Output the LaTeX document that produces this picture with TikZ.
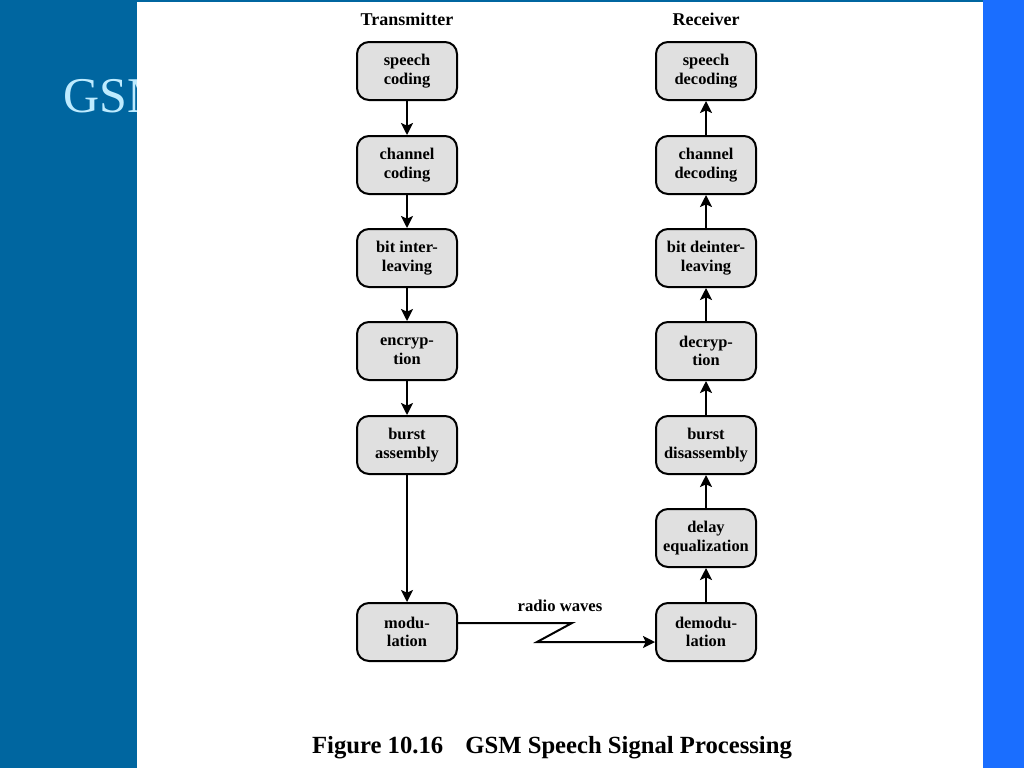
\documentclass[tikz,border=0pt]{standalone}
\usepackage{fontspec}
\setmainfont{Liberation Serif}
\usetikzlibrary{arrows.meta}
\definecolor{leftblue}{RGB}{0,102,160}
\definecolor{rightblue}{RGB}{26,110,255}
\definecolor{gsmtxt}{RGB}{190,235,255}
\definecolor{boxgray}{RGB}{224,224,224}
\begin{document}
\begin{tikzpicture}[x=0.75pt,y=-0.75pt,
  blk/.style={draw=black, line width=1.5pt, fill=boxgray, rounded corners=9pt,
    minimum width=75pt, minimum height=43.5pt, align=center, inner sep=0pt,
    font=\fontsize{12.3}{14}\selectfont\bfseries},
  lbl/.style={font=\fontsize{13.5}{15}\selectfont\bfseries},
  arr/.style={-{Stealth[length=9pt,width=9pt,inset=2pt]}, line width=1.5pt}]
\useasboundingbox (0,0) rectangle (1024,768);
% backgrounds
\fill[leftblue] (0,0) rectangle (1024,768);
\fill[rightblue] (983,0) rectangle (1024,768);
\node[anchor=base west, text=gsmtxt, inner sep=0pt, font=\fontsize{37.5}{40}\selectfont] (gsm) at (63,112) {GSM};
\fill[white] (137,1.5) rectangle (983,768);
% titles
\node[lbl] (tx) at (407,19) {Transmitter};
\node[lbl] (rx) at (706,19) {Receiver};
% transmitter column
\node[blk] (sc) at (407,71) {speech\\coding};
\node[blk] (cc) at (407,165) {channel\\coding};
\node[blk] (bi) at (407,258) {bit inter-\\leaving};
\node[blk] (en) at (407,351) {encryp-\\tion};
\node[blk] (ba) at (407,445) {burst\\assembly};
\node[blk] (mo) at (407,632) {modu-\\lation};
% receiver column
\node[blk] (sd) at (706,71) {speech\\decoding};
\node[blk] (cd) at (706,165) {channel\\decoding};
\node[blk] (bd) at (706,258) {bit deinter-\\leaving};
\node[blk] (de) at (706,351) {decryp-\\tion};
\node[blk] (bs) at (706,445) {burst\\disassembly};
\node[blk] (dq) at (706,538) {delay\\equalization};
\node[blk] (dm) at (706,632) {demodu-\\lation};
% arrows
\draw[arr] (sc) -- (cc);
\draw[arr] (cc) -- (bi);
\draw[arr] (bi) -- (en);
\draw[arr] (en) -- (ba);
\draw[arr] (ba) -- (mo);
\draw[arr] (dm) -- (dq);
\draw[arr] (dq) -- (bs);
\draw[arr] (bs) -- (de);
\draw[arr] (de) -- (bd);
\draw[arr] (bd) -- (cd);
\draw[arr] (cd) -- (sd);
% radio link
\coordinate (z1) at (572,623);
\coordinate (z2) at (537,642);
\draw[arr, line join=miter] ([yshift=6.75pt]mo.east) -- (z1) -- (z2) -- ([yshift=-7.5pt]dm.west);
\node[font=\fontsize{12.5}{14}\selectfont\bfseries] (rw) at (560,606) {radio waves};
% caption
\node[font=\fontsize{18.5}{20}\selectfont\bfseries] (cap) at (552,748) {Figure 10.16\hspace{0.9em}GSM Speech Signal Processing};
\end{tikzpicture}
\end{document}
